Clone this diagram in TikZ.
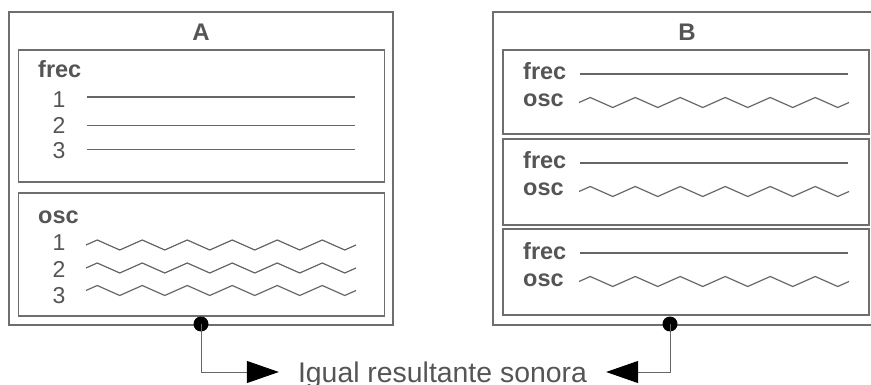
\documentclass[tikz,border=0pt]{standalone}
\usepackage{fontspec}
\setmainfont{Liberation Sans}
\usetikzlibrary{arrows.meta}
\definecolor{boxc}{HTML}{6E6E6E}
\definecolor{txtc}{HTML}{555555}
\definecolor{linec}{HTML}{666666}
\tikzset{
  outerbox/.style={draw=boxc, line width=1.3pt, fill=white, inner sep=0pt, minimum width=384pt, minimum height=313pt},
  innerbox/.style={draw=boxc, line width=1.3pt, inner sep=0pt, minimum width=366pt},
  title/.style={text=txtc, font=\fontsize{24}{26}\selectfont\bfseries, inner sep=0pt},
  lbl/.style={text=txtc, font=\fontsize{23.5}{25}\selectfont\bfseries, inner sep=0pt, anchor=base west},
  num/.style={text=txtc, font=\fontsize{23}{25}\selectfont, inner sep=0pt, anchor=base},
  flat/.style={draw=linec, line width=1.2pt},
  wave/.style={draw=linec, line width=1.2pt, line join=miter},
  dot/.style={circle, fill=black, inner sep=0pt, minimum size=15pt},
  conn/.style={draw=linec, line width=1pt, -{Triangle[length=32pt, width=22pt, color=black]}},
  result/.style={text=txtc, font=\fontsize{28.4}{30}\selectfont, inner xsep=19pt, inner ysep=0pt, text height=20.3pt, text depth=0pt}
}
\begin{document}
\begin{tikzpicture}[x=1pt, y=-1pt]
\useasboundingbox (0,0) rectangle (871,385);
\fill[white] (0,0) rectangle (871,385);
\clip (0,0) rectangle (871,385);

% ---------- A ----------
\node[outerbox] (A) at (201,168.5) {};
\node[title] (Atitle) at (201,32) {A};
\node[innerbox, minimum height=132pt] (Af) at (201.5,116) {};
\node[innerbox, minimum height=123pt] (Ao) at (201.5,254.5) {};

\node[lbl] (Aflbl) at (38,78) {frec};
\node[num] (Af1) at (59,108) {1};
\node[num] (Af2) at (59,133.5) {2};
\node[num] (Af3) at (59,159) {3};
\draw[flat] (87,97) -- (355,97);
\draw[flat] (87,125.5) -- (355,125.5);
\draw[flat] (87,149.5) -- (355,149.5);

\node[lbl] (Aolbl) at (38,223) {osc};
\node[num] (Ao1) at (59,251) {1};
\node[num] (Ao2) at (59,277) {2};
\node[num] (Ao3) at (59,303) {3};
\draw[wave] (86,245) \foreach \i in {1,...,6}{ -- ++(11.25,-5) -- ++(22.5,10) -- ++(11.25,-5)};
\draw[wave] (86,268) \foreach \i in {1,...,6}{ -- ++(11.25,-5) -- ++(22.5,10) -- ++(11.25,-5)};
\draw[wave] (86,290.5) \foreach \i in {1,...,6}{ -- ++(11.25,-5) -- ++(22.5,10) -- ++(11.25,-5)};

% ---------- B ----------
\node[outerbox] (B) at (685,168.5) {};
\node[title] (Btitle) at (687,32) {B};
\foreach \t/\h [count=\k] in {50/84, 139/86, 229/86}{
  \node[innerbox, minimum height=\h pt] (Bbox\k) at (686,\t+\h/2) {};
  \node[lbl] (Bf\k) at (523,\t+30) {frec};
  \node[lbl] (Bo\k) at (523,\t+57) {osc};
  \draw[flat] (580,\t+24) -- (848,\t+24);
  \draw[wave] (579,\t+52.5) \foreach \i in {1,...,6}{ -- ++(11.25,-5) -- ++(22.5,10) -- ++(11.25,-5)};
}

% ---------- connectors ----------
\node[dot] (dA) at (201,324) {};
\node[dot] (dB) at (670,324) {};
\node[result] (res) at (442.5,372) {Igual resultante sonora};
\draw[conn] (dA.center) |- (res.west);
\draw[conn] (dB.center) |- (res.east);
\end{tikzpicture}
\end{document}
